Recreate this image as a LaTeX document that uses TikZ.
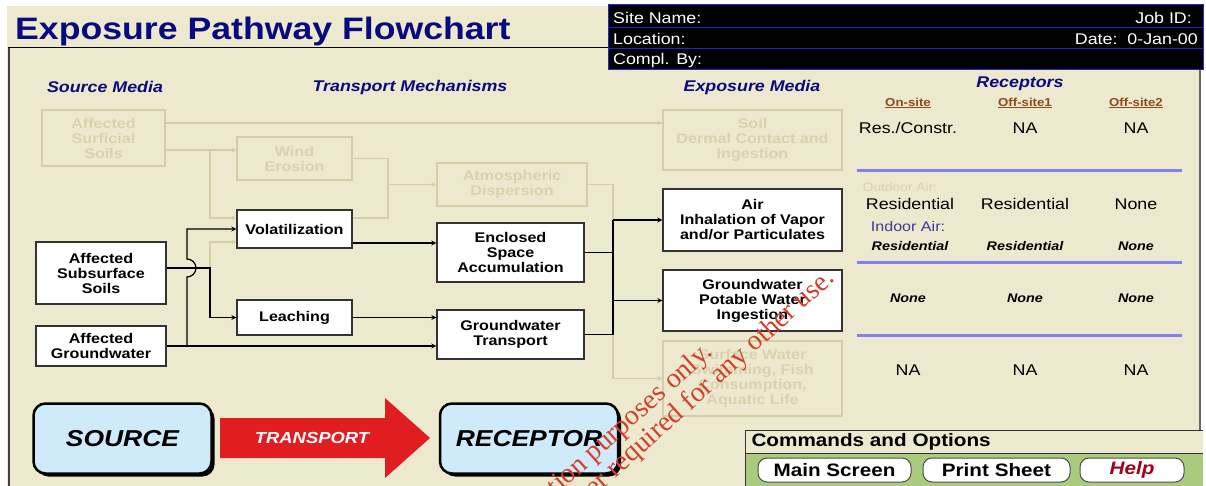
\documentclass[tikz,border=0pt]{standalone}
\usepackage{fontspec}
\setmainfont{Liberation Sans}[FakeStretch=1.15]
\newfontfamily\wmfont{Liberation Serif}
\usepackage{tikz}
\usetikzlibrary{arrows.meta, positioning, calc, shadows}
\definecolor{panelbg}{HTML}{EDE9CF}
\definecolor{navytxt}{HTML}{0A0A80}
\definecolor{fadeline}{HTML}{D3CEA7}
\definecolor{fadetxt}{HTML}{D8D3AE}
\definecolor{tablue}{HTML}{8080F4}
\definecolor{boxblue}{HTML}{CFEBFA}
\definecolor{arrowred}{HTML}{E01E22}
\definecolor{cmdgreen}{HTML}{AACB7E}
\definecolor{subbrown}{HTML}{8E4A1C}
\definecolor{helpred}{HTML}{A0001C}
\definecolor{wmred}{HTML}{D2402C}
\definecolor{hdrblue}{HTML}{2323D0}

\begin{document}
\begin{tikzpicture}[x=1pt, y=-1pt, >=stealth, node distance=11pt,
  media/.style={rectangle, draw=black!80, fill=white, line width=1.3pt, align=center, font=\fontsize{14}{15}\selectfont\bfseries, inner sep=2pt},
  faded/.style={rectangle, draw=fadeline, line width=1.3pt, align=center, text=fadetxt, font=\fontsize{14}{15}\selectfont\bfseries, inner sep=2pt},
  flow/.style={->, line width=1.2pt},
  wire/.style={line width=1.2pt},
  fadeflow/.style={->, line width=1.2pt, fadeline},
  fadewire/.style={line width=1.2pt, fadeline},
  colhead/.style={font=\fontsize{15.5}{16}\selectfont\bfseries\itshape, text=navytxt},
  subhead/.style={font=\fontsize{11.5}{12}\selectfont\bfseries, text=subbrown},
  cell/.style={font=\fontsize{15.5}{16}\selectfont},
  smallcell/.style={font=\fontsize{12.5}{13}\selectfont\bfseries\itshape},
  sepline/.style={tablue, line width=3pt},
  bigbox/.style={rectangle, rounded corners=12pt, draw=black, line width=2.5pt, fill=boxblue, minimum width=178pt, minimum height=70pt, font=\fontsize{23}{24}\selectfont\bfseries\itshape, drop shadow={shadow xshift=3pt, shadow yshift=-3pt, fill=black, opacity=1}},
  button/.style={rectangle, rounded corners=9pt, draw=black!70, line width=1pt, fill=white, minimum height=24pt, font=\fontsize{18}{18}\selectfont\bfseries},
  hdrtxt/.style={text=white, font=\fontsize{15.5}{16}\selectfont, inner sep=0pt},
  watermark/.style={rotate=42, anchor=base east, text=wmred, font=\wmfont\fontsize{28}{28}\selectfont, inner sep=0pt}]

  \useasboundingbox (0,0) rectangle (1206,486);
  \fill[white] (0,0) rectangle (1206,486);
  \fill[panelbg] (7,6) rectangle (1201,486);
  \draw[black!75, line width=2pt] (9,48) -- (9,486);
  \draw[black, line width=1pt] (8,48) -- (608,48);
  \draw[black!60, line width=1.5pt] (1200,70) -- (1200,430);

  % title and site header
  \node[anchor=west, font=\fontsize{31}{32}\selectfont\bfseries, text=navytxt, inner sep=0pt] (title) at (15,31) {Exposure Pathway Flowchart};
  \fill[black] (608,5) rectangle (1203,70);
  \draw[hdrblue, line width=1pt] (608,5) rectangle (1203,70);
  \draw[hdrblue, line width=1pt] (608,28) -- (1203,28);
  \draw[hdrblue, line width=1pt] (608,49) -- (1203,49);
  \node[hdrtxt, anchor=west] (sitename) at (613,18) {Site Name:};
  \node[hdrtxt, anchor=east] (jobid) at (1192,18) {Job ID:};
  \node[hdrtxt, anchor=west] (location) at (613,39) {Location:};
  \node[hdrtxt, anchor=east] (date) at (1198,39) {Date:\ \ 0-Jan-00};
  \node[hdrtxt, anchor=west] (complby) at (613,60) {Compl. By:};

  \node[colhead] (srchead) at (105,87) {Source Media};
  \node[colhead] (trhead) at (410,87) {Transport Mechanisms};
  \node[colhead] (exphead) at (752,87) {Exposure Media};

  % media boxes
  \node[faded, minimum width=123pt, minimum height=56pt] (surf) at (103.5,138) {Affected\\Surficial\\Soils};
  \node[media, minimum width=130pt, minimum height=62pt] (subsoil) at (101,273) {Affected\\Subsurface\\Soils};
  \node[media, minimum width=130pt, minimum height=40pt] (gw) at (101,346) {Affected\\Groundwater};

  \node[faded, minimum width=115pt, minimum height=43pt] (wind) at (294.5,158.5) {Wind\\Erosion};
  \node[media, minimum width=115pt, minimum height=38pt] (volat) at (294.5,229) {Volatilization};
  \node[media, minimum width=115pt, minimum height=35pt] (leach) at (294.5,317.5) {Leaching};

  \node[faded, minimum width=150pt, minimum height=43pt] (atmos) at (512,184.5) {Atmospheric\\Dispersion};
  \node[media, minimum width=147pt, minimum height=59pt] (encl) at (510.5,252.5) {Enclosed\\Space\\Accumulation};
  \node[media, minimum width=147pt, minimum height=49pt] (gwtr) at (510.5,334.5) {Groundwater\\Transport};

  \node[faded, minimum width=179pt, minimum height=60pt] (soilexp) at (752.5,140) {Soil\\Dermal Contact and\\Ingestion};
  \node[media, minimum width=179pt, minimum height=62pt] (air) at (752.5,220) {Air\\Inhalation of Vapor\\and/or Particulates};
  \node[media, minimum width=179pt, minimum height=61pt] (gwexp) at (752.5,300.5) {Groundwater\\Potable Water\\Ingestion};
  \node[faded, minimum width=179pt, minimum height=75pt] (swexp) at (752.5,378.5) {Surface Water\\Swimming, Fish\\Consumption,\\Aquatic Life};

  \coordinate (busgw) at (187,0);
  \coordinate (bussoil) at (210,0);
  \coordinate (buswind) at (388,0);
  \coordinate (busexp) at (613,0);

  % inactive pathways
  \draw[fadeflow] ([yshift=15pt]surf.east) -- ([yshift=15pt]surf.east -| soilexp.west);
  \draw[fadeflow] ([yshift=-12pt]surf.east) -- ([yshift=-12pt]surf.east -| wind.west);
  \draw[fadeflow] ([yshift=-12pt]surf.east -| bussoil) |- ([yshift=11pt]volat.west);
  \draw[fadeflow] ([yshift=5pt]subsoil.east -| bussoil) |- ([yshift=-13pt]volat.west);
  \draw[fadewire] (wind.east) -| ([yshift=11pt]volat.east -| buswind) -- ([yshift=11pt]volat.east);
  \draw[fadeflow] (atmos.west -| buswind) -- (atmos.west);
  \draw[fadewire] (atmos.east) -| (air.west -| busexp);
  \draw[fadeflow] (gwtr.east -| busexp) |- (swexp.west);

  % active pathways
  \draw[flow] (gw.east) -- (gw.east -| gwtr.west);
  \draw[flow] (gw.east -| busgw) -- ([yshift=-4pt]subsoil.east -| busgw) arc[start angle=-90, end angle=90, radius=9pt] -- (volat.west -| busgw) -- (volat.west);
  \draw[flow] ([yshift=5pt]subsoil.east) -- ([yshift=5pt]subsoil.east -| bussoil) |- (leach.west);
  \draw[flow] ([yshift=-14pt]volat.east) -- ([yshift=-14pt]volat.east -| encl.west);
  \draw[flow] (leach.east) -- (leach.east -| gwtr.west);
  \draw[wire] (encl.east) -- (encl.east -| busexp);
  \draw[wire] (gwtr.east) -| (air.west -| busexp);
  \draw[flow] (air.west -| busexp) -- (air.west);
  \draw[flow] (gwexp.west -| busexp) -- (gwexp.west);

  % receptors table
  \node[colhead] (receptors) at (1020,84) {Receptors};
  \node[subhead] (onsite) at (908,103) {\underline{On-site}};
  \node[subhead] (offsiteone) at (1025,103) {\underline{Off-site1}};
  \node[subhead] (offsitetwo) at (1136,103) {\underline{Off-site2}};
  \node[cell] (soilon) at (908,128) {Res./Constr.};
  \node[cell] (soiloffa) at (1025,128) {NA};
  \node[cell] (soiloffb) at (1136,128) {NA};
  \draw[sepline] (857,171) -- (1182,171);
  \node[font=\fontsize{12}{13}\selectfont, text=fadetxt] (outdoor) at (900,187) {Outdoor Air:};
  \node[cell] (outon) at (910,204) {Residential};
  \node[cell] (outoffa) at (1025,204) {Residential};
  \node[cell] (outoffb) at (1136,204) {None};
  \node[font=\fontsize{14}{15}\selectfont, text=navytxt!80] (indoor) at (908,226) {Indoor Air:};
  \node[smallcell] (inon) at (910,246) {Residential};
  \node[smallcell] (inoffa) at (1025,246) {Residential};
  \node[smallcell] (inoffb) at (1136,246) {None};
  \draw[sepline] (857,262) -- (1182,262);
  \node[smallcell] (gwon) at (908,298) {None};
  \node[smallcell] (gwoffa) at (1025,298) {None};
  \node[smallcell] (gwoffb) at (1136,298) {None};
  \draw[sepline] (857,335) -- (1182,335);
  \node[cell] (swon) at (908,370) {NA};
  \node[cell] (swoffa) at (1025,370) {NA};
  \node[cell] (swoffb) at (1136,370) {NA};

  % source - transport - receptor
  \node[bigbox] (source) at (122.5,438.5) {SOURCE};
  \fill[arrowred] (220,418) -- (385,418) -- (385,398) -- (430,438) -- (385,478) -- (385,458) -- (220,458) -- cycle;
  \node[font=\fontsize{16}{16}\selectfont\bfseries\itshape, text=white] (transport) at (312,438) {TRANSPORT};
  \node[bigbox] (receptor) at (529,438.5) {RECEPTOR};

  % commands
  \fill[panelbg] (745,430) rectangle (1203,453);
  \fill[cmdgreen] (745,453) rectangle (1203,486);
  \draw[black!80, line width=1pt] (745,486) -- (745,430) -- (1203,430);
  \draw[black!80, line width=1pt] (745,453) -- (1203,453);
  \node[anchor=west, font=\fontsize{18}{18}\selectfont\bfseries] (cmdtitle) at (748,442) {Commands and Options};
  \node[button, minimum width=153pt] (mainbtn) at (834.5,470) {Main Screen};
  \node[button, minimum width=147pt, right=of mainbtn] (printbtn) {Print Sheet};
  \node[button, minimum width=104pt, right=9pt of printbtn, text=helpred, font=\fontsize{18}{18}\selectfont\bfseries\itshape] (helpbtn) {Help};

  % watermark
  \node[watermark] (wmone) at (714,354) {tion purposes only.};
  \node[watermark] (wmtwo) at (836,280) {er required for any other use.};
\end{tikzpicture}
\end{document}
